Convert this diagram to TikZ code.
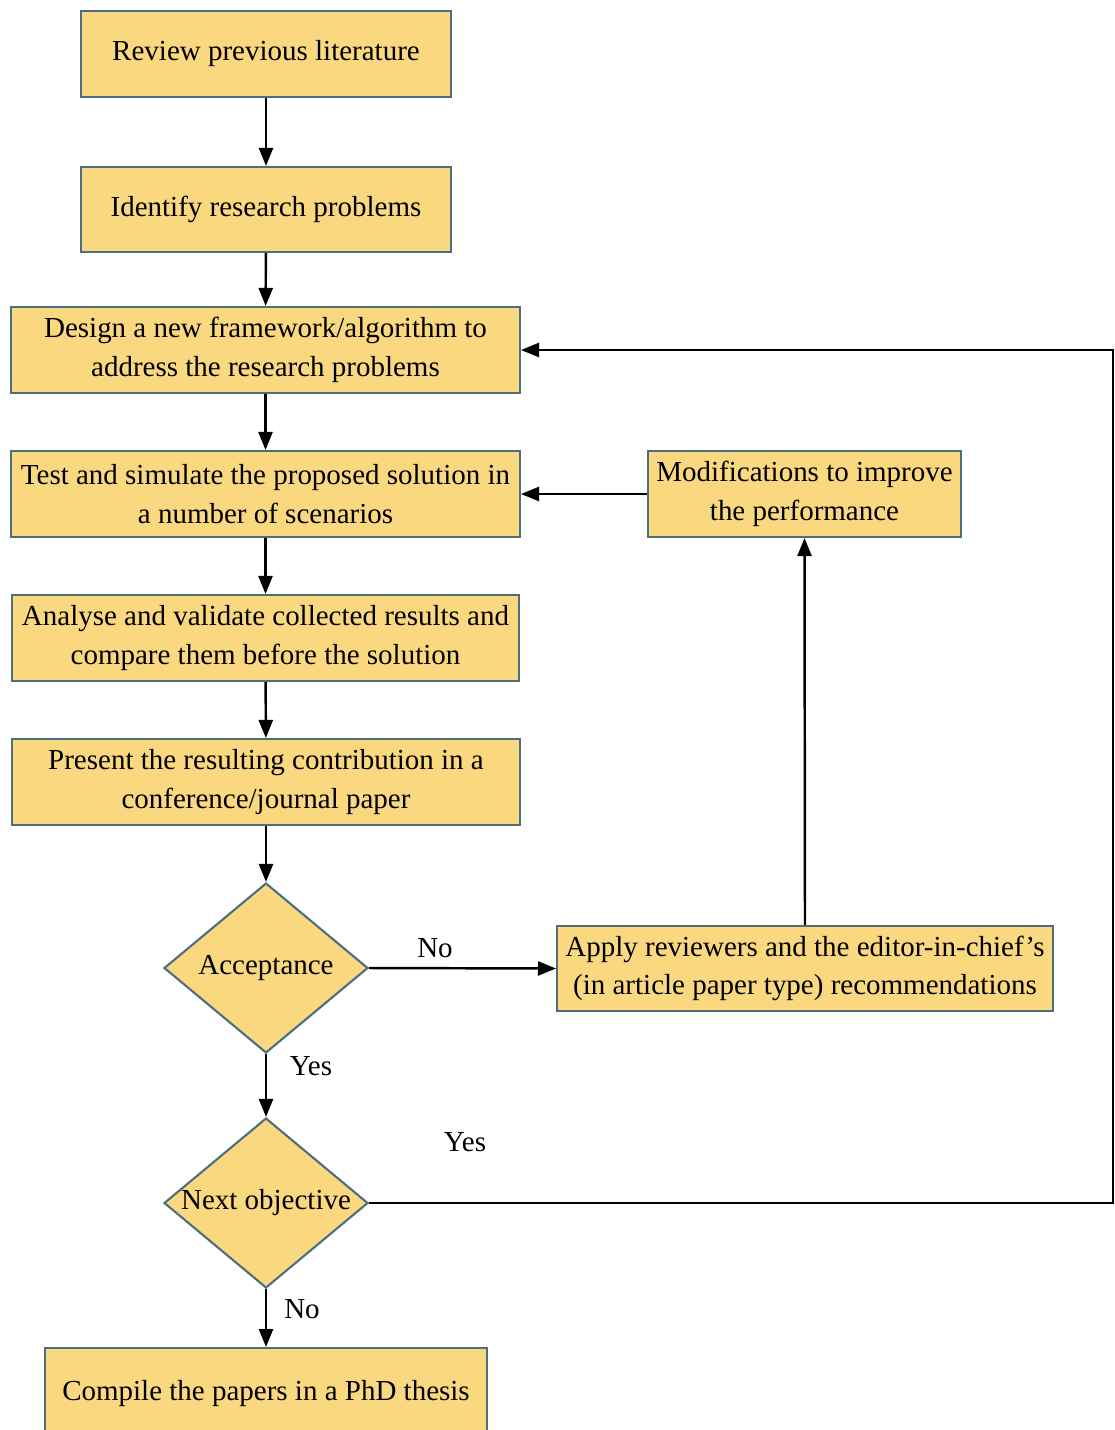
\documentclass[tikz,border=0pt]{standalone}
\usepackage{fontspec}
\setmainfont{Liberation Serif}
\usetikzlibrary{arrows.meta,shapes.geometric}
\definecolor{boxfill}{HTML}{FAD87F}
\definecolor{boxline}{HTML}{4E6E7E}
\begin{document}
\begin{tikzpicture}[x=0.02cm,y=-0.02cm,
  font=\fontsize{16.5pt}{22pt}\selectfont,
  stepbox/.style={draw=boxline,fill=boxfill,line width=1.2pt,
    inner sep=0pt,align=center},
  decision/.style={diamond,draw=boxline,fill=boxfill,line width=1.2pt,
    inner sep=0pt,minimum width=4.08cm,minimum height=3.4cm},
  flow/.style={line width=1.4pt,-{Triangle[length=0.36cm,width=0.28cm]}},
  lbl/.style={inner sep=0pt}]
\useasboundingbox (0,0) rectangle (1115,1430);
\fill[white] (0,0) rectangle (1115,1430);

% main column
\node[stepbox,minimum width=7.4cm,minimum height=1.72cm] (review) at (266,54)
  {Review previous literature};
\node[stepbox,minimum width=7.4cm,minimum height=1.7cm] (identify) at (266,209.5)
  {Identify research problems};
\node[stepbox,minimum width=10.18cm,minimum height=1.72cm] (design) at (265.5,350)
  {Design a new framework/algorithm to\\address the research problems};
\node[stepbox,minimum width=10.18cm,minimum height=1.72cm] (test) at (265.5,494)
  {Test and simulate the proposed solution in\\a number of scenarios};
\node[stepbox,minimum width=10.14cm,minimum height=1.72cm] (analyse) at (265.5,638)
  {Analyse and validate collected results and\\compare them before the solution};
\node[stepbox,minimum width=10.16cm,minimum height=1.72cm] (present) at (266,782)
  {Present the resulting contribution in a\\conference/journal paper};
\node[decision] (accept) at (266,968) {\makebox[0pt]{Acceptance}};
\node[decision] (next) at (266,1203) {\makebox[0pt]{Next objective}};
\node[stepbox,minimum width=8.84cm,minimum height=1.9cm,anchor=north] (compile) at (266,1347)
  {\raisebox{0.2cm}{Compile the papers in a PhD thesis}};

% side column
\node[stepbox,minimum width=6.26cm,minimum height=1.72cm] (modify) at (804.5,494)
  {Modifications to improve\\the performance};
\node[stepbox,minimum width=9.92cm,minimum height=1.7cm] (apply) at (805,968.5)
  {Apply reviewers and the editor-in-chief's\\(in article paper type) recommendations};

\coordinate (edge) at (1113,1203);

% connectors
\draw[flow] (review) -- (identify);
\draw[flow] (identify) -- (design);
\draw[flow] (design) -- (test);
\draw[flow] (test) -- (analyse);
\draw[flow] (analyse) -- (present);
\draw[flow] (present) -- (accept);
\draw[flow] (accept) -- (next);
\draw[flow] (next) -- (compile);
\draw[flow] (accept.east) -- (apply.west);
\draw[flow] (apply.north) -- (modify.south);
\draw[flow] (modify.west) -- (test.east);
\draw[flow] (next.east) -- (edge) |- (design.east);

% branch labels
\node[lbl] (lno) at (435,948) {No};
\node[lbl] (lyes) at (311,1066) {Yes};
\node[lbl] (lyes2) at (465,1142) {Yes};
\node[lbl] (lno2) at (302,1309) {No};
\end{tikzpicture}
\end{document}
